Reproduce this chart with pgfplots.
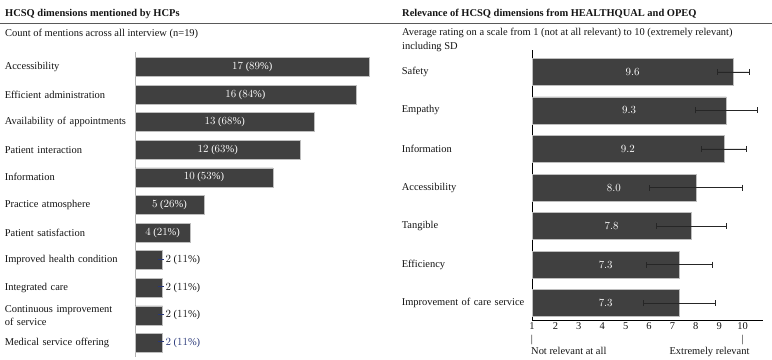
\documentclass[border=0pt]{standalone}
\usepackage{fontspec}
\setmainfont{Liberation Serif}
\usepackage{pgfplots}
\usepackage{pgfplotstable}
\pgfplotsset{compat=1.18}

\definecolor{barfill}{RGB}{64,64,64}
\definecolor{barline}{RGB}{190,190,190}
\definecolor{leader}{RGB}{40,55,120}
\definecolor{txt}{RGB}{20,20,20}

\newcommand{\chartfont}{\fontsize{10.5}{13}\selectfont}

% Mentions by health care professionals (n = 19)
\pgfplotstableread[col sep=comma]{
pos,count,pct
10,17,89
9,16,84
8,13,68
7,12,63
6,10,53
5,5,26
4,4,21
3,2,11
2,2,11
1,2,11
0,2,11
}\mentions

% Relevance ratings: mean and SD on a 1--10 scale
\pgfplotstableread[col sep=comma]{
pos,mean,sd
6,9.6,0.67
5,9.3,1.33
4,9.2,0.97
3,8.0,2.0
2,7.8,1.5
1,7.3,1.4
0,7.3,1.53
}\ratings

\begin{document}
\chartfont
\begin{tikzpicture}[font=\chartfont, color=txt]
\useasboundingbox (0,0) rectangle (772bp,-360bp);

% headings
\node[anchor=base west, inner sep=0, font=\chartfont\bfseries] at (5bp,-16bp) {HCSQ dimensions mentioned by HCPs};
\node[anchor=base west, inner sep=0, font=\chartfont\bfseries] at (402bp,-16bp) {Relevance of HCSQ dimensions from HEALTHQUAL and OPEQ};
\draw[gray!70!black, line width=0.6pt] (0,-23.5bp) -- (772bp,-23.5bp);
\node[anchor=base west, inner sep=0] at (5bp,-36bp) {Count of mentions across all interview (n=19)};
\node[anchor=base west, inner sep=0] at (402bp,-35bp) {Average rating on a scale from 1 (not at all relevant) to 10 (extremely relevant)};
\node[anchor=base west, inner sep=0] at (402bp,-49bp) {including SD};

% left panel: counts of mentions
\begin{axis}[
  at={(135bp,-357bp)}, anchor=south west,
  scale only axis, width=255bp, height=305bp,
  xmin=0, xmax=18.48, ymin=-0.51, ymax=10.54,
  axis x line=none, axis y line*=left,
  y axis line style={gray!60, -, line width=0.8pt},
  ytick={0,...,10},
  yticklabels={Medical service offering, Continuous improvement\\of service, Integrated care, Improved health condition, Patient satisfaction, Practice atmosphere, Information, Patient interaction, Availability of appointments, Efficient administration, Accessibility},
  yticklabel style={font=\chartfont, text width=126bp, align=left, inner sep=0pt, anchor=east, xshift=-4bp, text=txt},
  major tick length=0pt,
  clip=false,
]
\addplot[xbar, bar width=19bp, fill=barfill, draw=barline, line width=0.4pt]
  table[x=count, y=pos] {\mentions};
% labels inside the longer bars
\addplot[only marks, mark=none, forget plot,
  skip coords between index={7}{11},
  point meta=\thisrow{count},
  visualization depends on={\thisrow{pct} \as \pct},
  nodes near coords={\pgfmathprintnumber{\pgfplotspointmeta} (\pgfmathprintnumber{\pct}\%)},
  nodes near coords style={font=\chartfont, anchor=center, text=white, inner sep=0pt}]
  table[x expr=\thisrow{count}/2, y=pos] {\mentions};
% labels beside the short bars
\addplot[only marks, mark=none, forget plot,
  skip coords between index={0}{7}, skip coords between index={10}{11},
  point meta=\thisrow{count},
  visualization depends on={\thisrow{pct} \as \pct},
  nodes near coords={{\color{leader}\rule[0.33em]{6bp}{0.6pt}}\,\pgfmathprintnumber{\pgfplotspointmeta} (\pgfmathprintnumber{\pct}\%)},
  nodes near coords style={font=\chartfont, anchor=west, text=txt, inner sep=0pt, xshift=-5bp}]
  table[x=count, y=pos] {\mentions};
\addplot[only marks, mark=none, forget plot,
  skip coords between index={0}{10},
  point meta=\thisrow{count},
  visualization depends on={\thisrow{pct} \as \pct},
  nodes near coords={{\color{leader}\rule[0.33em]{6bp}{0.6pt}}\,\pgfmathprintnumber{\pgfplotspointmeta} (\pgfmathprintnumber{\pct}\%)},
  nodes near coords style={font=\chartfont, anchor=west, text=leader, inner sep=0pt, xshift=-5bp}]
  table[x=count, y=pos] {\mentions};
\end{axis}

% right panel: relevance ratings
\begin{axis}[
  at={(532bp,-320bp)}, anchor=south west,
  scale only axis, width=231bp, height=270bp,
  xmin=1, xmax=10.87, ymin=-0.44, ymax=6.57,
  axis lines*=left,
  axis line style={black, -, line width=0.7pt},
  xtick={1,...,10},
  xticklabel={\pgfmathprintnumber[assume math mode=true]{\tick}},
  ytick={0,...,6},
  yticklabels={Improvement of care service, Efficiency, Tangible, Accessibility, Information, Empathy, Safety},
  yticklabel style={font=\chartfont, text width=126bp, align=left, inner sep=0pt, anchor=east, xshift=-4bp, text=txt},
  xticklabel style={font=\chartfont, text=txt, yshift=1bp},
  major tick length=0pt,
  clip=false,
]
\addplot[xbar, bar width=27bp, fill=barfill, draw=barline, line width=0.4pt,
  error bars/.cd, x dir=both, x explicit,
  error bar style={black!85, line width=0.8pt},
  error mark options={black!85, mark size=3bp, line width=0.8pt, rotate=90}]
  table[x=mean, y=pos, x error=sd] {\ratings};
\addplot[only marks, mark=none, forget plot,
  point meta=\thisrow{mean},
  nodes near coords={\pgfmathprintnumber[fixed, fixed zerofill, precision=1]{\pgfplotspointmeta}},
  nodes near coords style={font=\chartfont, anchor=center, text=white, inner sep=0pt}]
  table[x expr=(\thisrow{mean}+1)/2, y=pos] {\ratings};
\node[anchor=north, inner sep=0pt, yshift=-15bp] at (axis cs:1,-0.44) {|};
\node[anchor=north, inner sep=0pt, yshift=-15bp] at (axis cs:10,-0.44) {|};
\node[anchor=north west, inner sep=0pt, yshift=-27bp, xshift=-1bp] at (axis cs:1,-0.44) {Not relevant at all};
\node[anchor=north east, inner sep=0pt, yshift=-27bp, xshift=7bp] at (axis cs:10,-0.44) {Extremely relevant};
\end{axis}
\end{tikzpicture}
\end{document}
